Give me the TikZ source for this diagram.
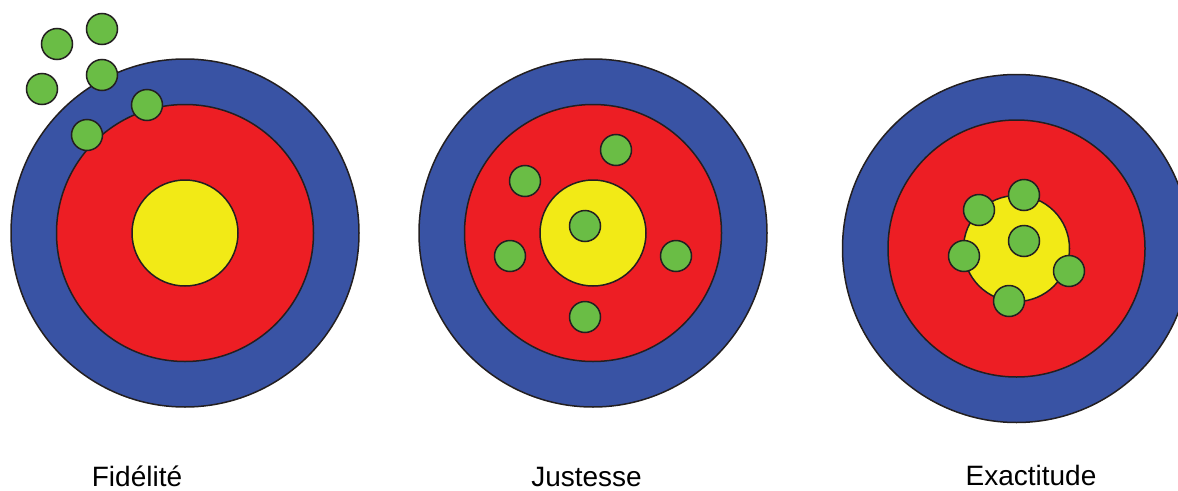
\documentclass[tikz,border=0pt]{standalone}
\usepackage{fontspec}
\setmainfont{Liberation Sans}
\definecolor{ringblue}{RGB}{57,83,164}
\definecolor{ringred}{RGB}{237,30,36}
\definecolor{ringgold}{RGB}{242,234,22}
\definecolor{hitgreen}{RGB}{106,189,69}
\definecolor{ringline}{RGB}{35,31,32}

\begin{document}
\begin{tikzpicture}[
    x=1pt, y=-1pt,
    ring/.style={circle, draw=ringline, line width=1.5pt, inner sep=0pt},
    hit/.style={circle, draw=ringline, line width=1.5pt, fill=hitgreen, minimum size=31pt, inner sep=0pt},
    caption/.style={anchor=base, inner sep=0pt, text depth=0pt, font=\fontsize{28}{30}\selectfont}
]
    \clip (0,0) rectangle (1178,490);
    \useasboundingbox (0,0) rectangle (1178,490);

    % --- TARGETS (outer / middle / centre rings) ---
    \foreach \t/\cx/\cy in {fid/185/233, jus/593/233, exa/1016.5/248.5} {
        \node[ring, fill=ringblue, minimum size=348pt] (\t-outer) at (\cx,\cy) {};
        \node[ring, fill=ringred, minimum size=257pt] (\t-mid) at (\cx,\cy) {};
        \node[ring, fill=ringgold, minimum size=106pt] (\t-gold) at (\cx,\cy) {};
    }

    % --- HITS ---
    % Fidelite: grouped, off the centre
    \foreach \n/\hx/\hy in {1/57/44, 2/102/29, 3/102/75, 4/42/89, 5/147/105, 6/87/135}
        \node[hit] (fid-h\n) at (\hx,\hy) {};
    % Justesse: spread round the centre
    \foreach \n/\hx/\hy in {1/616/150, 2/525/181, 3/585/226, 4/510/256, 5/676/256, 6/585/317}
        \node[hit] (jus-h\n) at (\hx,\hy) {};
    % Exactitude: grouped on the centre
    \foreach \n/\hx/\hy in {1/979/210, 2/1024/195, 3/1024/241, 4/964/256, 5/1069/271, 6/1009/301}
        \node[hit] (exa-h\n) at (\hx,\hy) {};

    % --- CAPTIONS ---
    \node[caption] (fid-label) at (137,486.5) {Fidélité};
    \node[caption] (jus-label) at (586.5,486.5) {Justesse};
    \node[caption] (exa-label) at (1031,485) {Exactitude};

\end{tikzpicture}
\end{document}
